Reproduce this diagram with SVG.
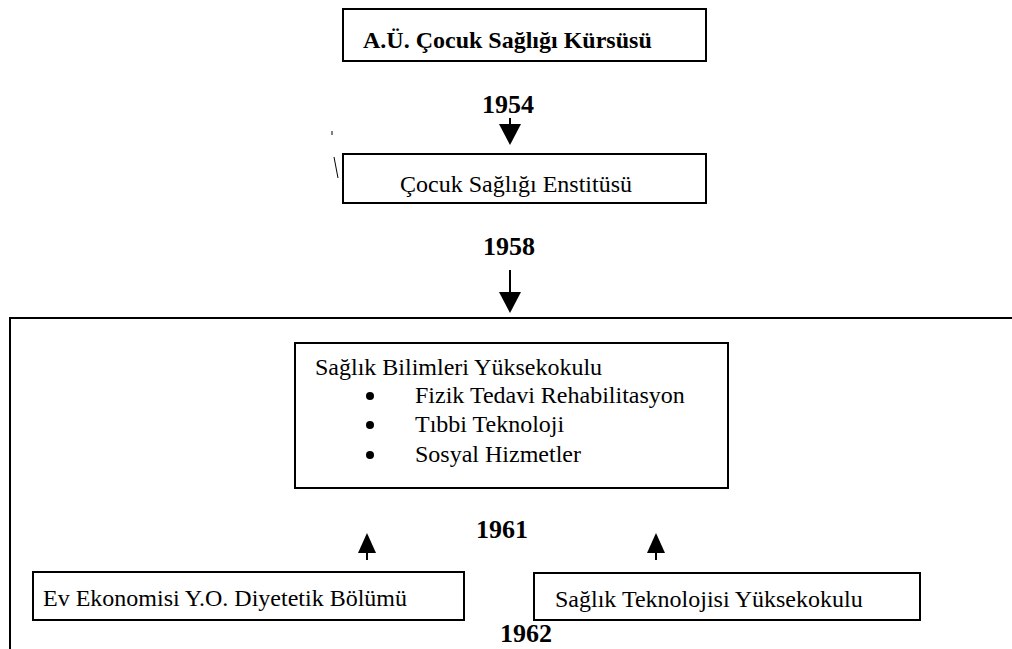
<svg xmlns="http://www.w3.org/2000/svg" width="1012" height="649" viewBox="0 0 1012 649">
<style>
.box{fill:#fff;stroke:#000;stroke-width:2}
.t{font-family:"Liberation Serif","Times New Roman",serif;font-size:24px;fill:#000}
.b{font-weight:bold}
.yr{font-family:"Liberation Serif","Times New Roman",serif;font-size:26px;font-weight:bold;fill:#000;text-anchor:middle}
.ln{stroke:#000;stroke-width:2;fill:none}
</style>
<defs>
<marker id="ah" viewBox="0 0 10 10" refX="10" refY="5" markerWidth="10" markerHeight="10" markerUnits="userSpaceOnUse" orient="auto">
<path d="M0,0 L10,5 L0,10 Z" fill="#000"/>
</marker>
</defs>
<rect width="1012" height="649" fill="#fff"/>
<g id="frame">
<path class="ln" d="M10,649 L10,318 L1012,318"/>
</g>
<g id="n1"><rect class="box" x="343" y="9" width="363" height="52"/><text class="t b" x="363" y="48" font-size="23">A.Ü. Çocuk Sağlığı Kürsüsü</text></g>
<g id="n2"><rect class="box" x="343" y="154" width="363" height="49"/><text class="t" x="400" y="192">Çocuk Sağlığı Enstitüsü</text></g>
<g id="n3"><rect class="box" x="295" y="343" width="433" height="145"/>
<text class="t" x="315" y="375">Sağlık Bilimleri Yüksekokulu</text>
<circle cx="370" cy="396" r="4"/><text class="t" x="415" y="403">Fizik Tedavi Rehabilitasyon</text>
<circle cx="370" cy="425" r="4"/><text class="t" x="415" y="432">Tıbbi Teknoloji</text>
<circle cx="370" cy="455" r="4"/><text class="t" x="415" y="462">Sosyal Hizmetler</text>
</g>
<g id="n4"><rect class="box" x="33" y="572" width="431" height="48"/><text class="t" x="43" y="606">Ev Ekonomisi Y.O. Diyetetik Bölümü</text></g>
<g id="n5"><rect class="box" x="534" y="573" width="386" height="47"/><text class="t" x="555" y="607">Sağlık Teknolojisi Yüksekokulu</text></g>
<g id="labels">
<text class="yr" x="508" y="113">1954</text>
<text class="yr" x="509" y="255">1958</text>
<text class="yr" x="502" y="538">1961</text>
<text class="yr" x="526" y="642">1962</text>
</g>
<g id="connectors">
<path d="M510,118 L510,124" class="ln"/>
<path d="M499,124 L521,124 L510,145 Z" fill="#000"/>
<path d="M510,270 L510,293" class="ln"/>
<path d="M499,292 L521,292 L510,313 Z" fill="#000"/>
<path d="M367,560 L367,552" class="ln"/>
<path d="M358,553 L376,553 L367,533 Z" fill="#000"/>
<path d="M656,560 L656,552" class="ln"/>
<path d="M647,553 L665,553 L656,533 Z" fill="#000"/>
</g>
<g id="marks">
<path d="M332,131 L332,135" stroke="#000" stroke-width="1"/>
<path d="M334,157 L338,178" stroke="#000" stroke-width="1"/>
</g>
</svg>
